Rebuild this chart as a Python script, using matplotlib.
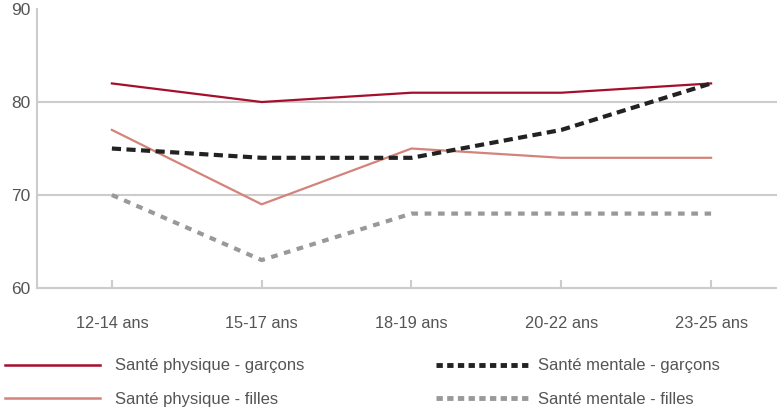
import matplotlib
matplotlib.use('Agg')
import matplotlib.pyplot as plt
from matplotlib.lines import Line2D

plt.rcParams['font.family'] = ['Liberation Sans', 'DejaVu Sans']

# donnees
categories = ['12-14 ans', '15-17 ans', '18-19 ans', '20-22 ans', '23-25 ans']
physique_garcons = [82, 80, 81, 81, 82]
physique_filles = [77, 69, 75, 74, 74]
mentale_garcons = [75, 74, 74, 77, 82]
mentale_filles = [70, 63, 68, 68, 68]

grid_col = '#cccccc'
text_col = '#555555'
c_pg, c_pf, c_mg, c_mf = '#a50f2d', '#d4837b', '#222222', '#999999'

fig = plt.figure(figsize=(7.77, 4.11), dpi=100)
ax = fig.add_axes([0.0476, 0.2993, 0.9524, 0.6787])

x = range(len(categories))
ax.plot(x, physique_garcons, color=c_pg, lw=1.6)
ax.plot(x, physique_filles, color=c_pf, lw=1.6)
ax.plot(x, mentale_garcons, color=c_mg, lw=3, dashes=(2.2, 1.3))
ax.plot(x, mentale_filles, color=c_mf, lw=3, dashes=(1.6, 1.6))

ax.set_ylim(60, 90)
ax.set_xlim(-0.5, 4.44)
ax.set_yticks([60, 70, 80, 90])
ax.set_xticks(list(x))
ax.set_xticklabels(categories)

for yv in [70, 80]:
    ax.axhline(yv, color=grid_col, lw=1.5, zorder=0)

for s in ['top', 'right']:
    ax.spines[s].set_visible(False)
for s in ['left', 'bottom']:
    ax.spines[s].set_color(grid_col)
    ax.spines[s].set_linewidth(1.5)

ax.tick_params(axis='x', direction='in', length=6, width=1.5, color=grid_col,
               labelsize=11.8, labelcolor=text_col, pad=20)
ax.tick_params(axis='y', length=0, labelsize=12.5, labelcolor=text_col, pad=5)

# legende en deux colonnes sous le graphique (petits carres pour les pointilles)
h1 = Line2D([], [], color=c_pg, lw=1.8)
h2 = Line2D([], [], color=c_pf, lw=1.8)
h3 = Line2D([], [], color=c_mg, lw=3.5, dashes=(1.3, 0.9))
h4 = Line2D([], [], color=c_mf, lw=3.5, dashes=(1.3, 0.9))

fig.legend(handles=[h1, h2], labels=['Santé physique - garçons', 'Santé physique - filles'],
           loc='upper left', bbox_to_anchor=(0.006, 0.128),
           frameon=False, fontsize=12, labelcolor=text_col,
           handlelength=5.7, handletextpad=0.9, labelspacing=1.1, borderaxespad=0, borderpad=0)
fig.legend(handles=[h3, h4], labels=['Santé mentale - garçons', 'Santé mentale - filles'],
           loc='upper left', bbox_to_anchor=(0.561, 0.128),
           frameon=False, fontsize=12, labelcolor=text_col,
           handlelength=5.7, handletextpad=0.45, labelspacing=1.1, borderaxespad=0, borderpad=0)

fig.savefig('out.png', dpi=100)
